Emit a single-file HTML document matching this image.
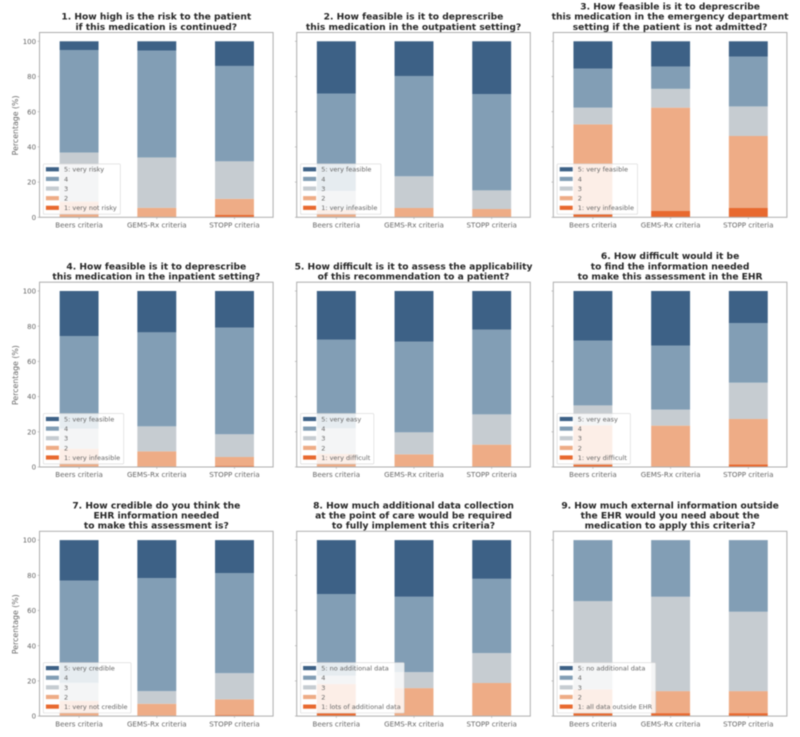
<!DOCTYPE html>
<html lang="en">
<head>
<meta charset="utf-8">
<title>Deprescribing criteria survey results</title>
<style>
  html, body { margin: 0; padding: 0; background: #fff; width: 800px; height: 737px; overflow: hidden; }
  svg { display: block; filter: blur(0.45px); }
  text { font-family: "DejaVu Sans", "Liberation Sans", sans-serif; }
</style>
</head>
<body>
<svg id="chart" xmlns="http://www.w3.org/2000/svg" width="800" height="737" viewBox="0 0 800 737"></svg>
<script>
const categories = ["Beers criteria", "GEMS-Rx criteria", "STOPP criteria"];
const yTicks = [0, 20, 40, 60, 80, 100];

// Each question: five rows (level 1..5), each with a value per category.
const q1 = [[0, 0, 1.3], [8.9, 5.4, 9.2], [27.9, 28.6, 21.3], [58.2, 60.7, 54.2], [5, 5.3, 14]];
const q2 = [[0, 0, 0.3], [4.2, 5.3, 4.4], [10.8, 18, 10.6], [55.3, 57, 54.7], [29.7, 19.7, 30]];
const q3 = [[1.7, 3.6, 5.3], [51.1, 58.7, 40.9], [9.5, 10.7, 16.8], [22.2, 12.7, 28.3], [15.5, 14.3, 8.7]];
const q4 = [[0, 0, 0.6], [10.4, 8.9, 5.1], [11.4, 14.2, 12.9], [52.6, 53.4, 60.6], [25.6, 23.5, 20.8]];
const q5 = [[0, 0, 0], [7.5, 7.2, 12.7], [14.5, 12.5, 17.2], [50.3, 51.5, 48.1], [27.7, 28.8, 22]];
const q6 = [[1.3, 0, 1.5], [22.4, 23.5, 25.8], [11.3, 9.1, 20.6], [36.8, 36.4, 33.9], [28.2, 31, 18.2]];
const q7 = [[0, 0, 0.6], [8.7, 7, 8.9], [10.2, 7.2, 14.9], [58.1, 64.2, 56.9], [23, 21.6, 18.7]];
const q8 = [[1.5, 0, 0], [16.7, 15.9, 18.8], [4.8, 9.1, 17], [46.3, 42.8, 42.2], [30.7, 32.2, 22]];
const q9 = [[1.5, 1.7, 1.7], [13.7, 12.5, 12.5], [50.1, 53.6, 45.1], [34.7, 32.2, 40.7], [0, 0, 0]];
const questions = [q1, q2, q3, q4, q5, q6, q7, q8, q9];

const titles = [
  ["1. How high is the risk to the patient", "if this medication is continued?"],
  ["2. How feasible is it to deprescribe", "this medication in the outpatient setting?"],
  ["3. How feasible is it to deprescribe", "this medication in the emergency department", "setting if the patient is not admitted?"],
  ["4. How feasible is it to deprescribe", "this medication in the inpatient setting?"],
  ["5. How difficult is it to assess the applicability", "of this recommendation to a patient?"],
  ["6. How difficult would it be", "to find the information needed", "to make this assessment in the EHR"],
  ["7. How credible do you think the", "EHR information needed", "to make this assessment is?"],
  ["8. How much additional data collection", "at the point of care would be required", "to fully implement this criteria?"],
  ["9. How much external information outside", "the EHR would you need about the", "medication to apply this criteria?"]
];
const highLabels = ["5: very risky", "5: very feasible", "5: very feasible", "5: very feasible", "5: very easy", "5: very easy", "5: very credible", "5: no additional data", "5: no additional data"];
const lowLabels = ["1: very not risky", "1: very infeasible", "1: very infeasible", "1: very infeasible", "1: very difficult", "1: very difficult", "1: very not credible", "1: lots of additional data", "1: all data outside EHR"];

const levelColors = ["#e8692f", "#eeac86", "#c6ccd1", "#829eb5", "#3d6186"];
const panelLefts = [39.5, 296.7, 553.3];
const panelTops = [32.5, 282.2, 531.3];
const panelWidth = 233.6;
const panelHeight = 184.8;

const NS = "http://www.w3.org/2000/svg";
const svg = document.getElementById("chart");

function make(tag, attrs, parent) {
  const el = document.createElementNS(NS, tag);
  for (const k in attrs) el.setAttribute(k, attrs[k]);
  parent.appendChild(el);
  return el;
}
function yScale(top, v) { return top + panelHeight - v * 1.76; }
function xScale(left, i) { return left + 39.6 + i * 77.7; }
const barWidth = 38.9;
const axisColor = "#adadad";
const textColor = "#666";

questions.forEach(function (rows, q) {
  const col = q % 3;
  const row = Math.floor(q / 3);
  const left = panelLefts[col];
  const top = panelTops[row];
  const bottom = top + panelHeight;

  const g = make("g", {}, svg);
  
  

  // Title
  const lines = titles[q];
  lines.forEach(function (line, li) {
    const t = make("text", {
      x: left + panelWidth / 2,
      y: top - 2.6 - (lines.length - 1 - li) * 10.2,
      "text-anchor": "middle",
      "font-size": "9.15",
      "font-weight": "bold",
      fill: "#262626"
    }, g);
    
    
    t.textContent = line;
  });

  // Stacked bars
  categories.forEach(function (cat, i) {
    let cum = 0;
    rows.forEach(function (vals, level) {
      const v = vals[i];
      if (v > 0) {
        const r = make("rect", {
          x: xScale(left, i) - barWidth / 2,
          y: yScale(top, cum + v),
          width: barWidth,
          height: v * 1.76,
          fill: levelColors[level]
        }, g);
        
        
      }
      cum += v;
    });
  });

  // Y ticks
  yTicks.forEach(function (tick) {
    const y = yScale(top, tick);
    const m = make("line", { x1: left - 1.8, x2: left, y1: y, y2: y, stroke: axisColor, "stroke-width": "0.7" }, g);
    
    
    if (col === 0) {
      const t = make("text", { x: left - 3.4, y: y + 2.6, "text-anchor": "end", "font-size": "7", fill: textColor }, g);
      
      
      t.textContent = tick;
    }
  });

  // X ticks
  categories.forEach(function (cat, i) {
    const x = xScale(left, i);
    const m = make("line", { x1: x, x2: x, y1: bottom, y2: bottom + 1.8, stroke: axisColor, "stroke-width": "0.7" }, g);
    
    
    const t = make("text", { x: x, y: bottom + 10.2, "text-anchor": "middle", "font-size": "7.1", fill: textColor }, g);
    
    
    t.textContent = cat;
  });

  // Y axis title
  if (col === 0) {
    const cy = top + panelHeight / 2 + 0.5;
    const t = make("text", { x: 18, y: cy, "text-anchor": "middle", "font-size": "7.8", fill: textColor, transform: "rotate(-90 18 " + cy + ")" }, g);
    
    
    t.textContent = "Percentage (%)";
  }

  // Axes frame
  const frame = make("rect", { x: left, y: top, width: panelWidth, height: panelHeight, fill: "none", stroke: axisColor, "stroke-width": "1" }, g);
  
  

  // Legend
  const legend = make("g", {}, g);
  
  
  const legendLeft = left + 3.8;
  const legendTop = bottom - 53.4;
  const legendBox = make("rect", { x: legendLeft, y: legendTop, width: 80, height: 50.3, rx: 1, fill: "#ffffff", "fill-opacity": "0.8", stroke: "#d6d6d6", "stroke-width": "0.6" }, legend);
  
  
  const labels = [highLabels[q], "4", "3", "2", lowLabels[q]];
  let maxWidth = 0;
  labels.forEach(function (label, li) {
    const cy = legendTop + 5.4 + li * 9.63;
    const swatch = make("rect", { x: legendLeft + 2.6, y: cy - 2.1, width: 13, height: 4.2, fill: levelColors[4 - li] }, legend);
    
    
    const t = make("text", { x: legendLeft + 20.7, y: cy + 2.4, "font-size": "6.5", fill: textColor }, legend);
    
    
    t.textContent = label;
    maxWidth = Math.max(maxWidth, t.getComputedTextLength());
  });
  legendBox.setAttribute("width", (20.7 + maxWidth + 3.5).toFixed(1));
});
</script>
</body>
</html>
